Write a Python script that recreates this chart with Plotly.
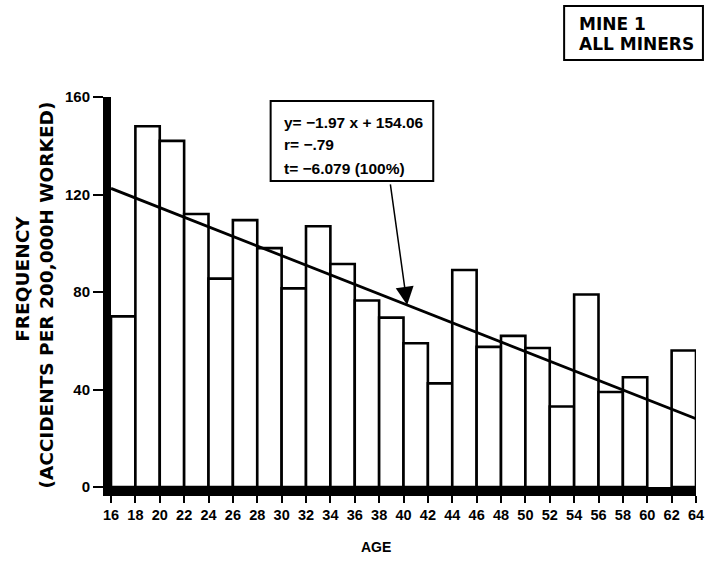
import plotly.graph_objects as go

# ---- data ----
age_bins = [16, 18, 20, 22, 24, 26, 28, 30, 32, 34, 36, 38,
            40, 42, 44, 46, 48, 50, 52, 54, 56, 58, 60, 62]
frequency = [70, 148, 142, 112, 85.5, 109.5, 98, 81.5, 107, 91.5, 76.5, 69.5,
             59, 42.5, 89, 57.5, 62, 57, 33, 79, 39, 45, None, 56]
x_tick_vals = list(range(16, 66, 2))
x_tick_text = [str(v) for v in x_tick_vals]
y_tick_vals = [0, 40, 80, 120, 160]
y_tick_text = ["0", "40", "80", "120", "160"]
fit_x = [16, 64]
fit_y = [122.5, 28.0]
arrow_target = (40.3, 74.7)
stats_lines = ["y= \u22121.97 x + 154.06", "r= \u2212.79", "t= \u22126.079 (100%)"]

# ---- layout geometry (pixels) ----
W, H = 716, 561
L, R, T, B = 111, 15, 97, 74
pw, ph = W - L - R, H - T - B


def px(x):
    return (x - L) / pw


def py(y):
    return (H - B - y) / ph


SANS = "Liberation Sans, Arial, sans-serif"
WIDE = "DejaVu Sans, sans-serif"
BIGFONT = dict(family=WIDE, size=18.5, color="black", weight="bold")

fig = go.Figure()
fig.add_trace(go.Bar(
    x=age_bins, y=frequency, offset=0, width=2,
    marker=dict(color="white", line=dict(color="black", width=2.6)),
    showlegend=False, hoverinfo="skip",
))
fig.add_trace(go.Scatter(
    x=fit_x, y=fit_y, mode="lines",
    line=dict(color="black", width=2.8), showlegend=False, hoverinfo="skip",
))

shapes = [
    dict(type="rect", xref="paper", yref="paper",
         x0=px(272), x1=px(436), y0=py(181), y1=py(101),
         line=dict(color="black", width=2), fillcolor="white", layer="above"),
    dict(type="rect", xref="paper", yref="paper",
         x0=px(568), x1=px(708), y0=py(60), y1=py(6),
         line=dict(color="black", width=2), fillcolor="white"),
]

annotations = []
for txt, yy in zip(stats_lines, [122, 144, 168]):
    annotations.append(dict(
        text=txt, xref="paper", yref="paper", x=px(283), y=py(yy),
        xanchor="left", yanchor="middle", showarrow=False,
        font=dict(family=SANS, size=15.5, color="black", weight="bold"),
    ))
annotations.append(dict(
    x=arrow_target[0], y=arrow_target[1], xref="x", yref="y",
    ax=-17, ay=-122, axref="pixel", ayref="pixel", text="",
    showarrow=True, arrowhead=2, arrowsize=2.4, arrowwidth=1.5, arrowcolor="black",
    standoff=0,
))
for txt, yy in zip(["MINE 1", "ALL MINERS"], [24, 44]):
    annotations.append(dict(
        text=txt, xref="paper", yref="paper", x=px(581), y=py(yy),
        xanchor="left", yanchor="middle", showarrow=False,
        font=dict(family=WIDE, size=17, color="black", weight="bold"),
    ))
annotations.append(dict(
    text="AGE", xref="paper", yref="paper", x=px(378), y=py(547),
    xanchor="center", yanchor="middle", showarrow=False, borderpad=0,
    font=dict(family=SANS, size=14, color="black", weight="bold"),
))
annotations.append(dict(
    text="FREQUENCY", xref="paper", yref="paper", x=px(21), y=py(279),
    xanchor="center", yanchor="middle", showarrow=False, textangle=-90,
    font=BIGFONT,
))
annotations.append(dict(
    text="(ACCIDENTS PER 200,000H WORKED)", xref="paper", yref="paper", x=px(45), y=py(295),
    xanchor="center", yanchor="middle", showarrow=False, textangle=-90,
    font=BIGFONT,
))

fig.update_layout(
    width=W, height=H,
    margin=dict(l=L, r=R, t=T, b=B, pad=0),
    paper_bgcolor="white", plot_bgcolor="white",
    bargap=0,
    shapes=shapes, annotations=annotations,
    xaxis=dict(range=[16, 64], tickmode="array", tickvals=x_tick_vals, ticktext=x_tick_text,
               ticks="outside", ticklen=7, tickwidth=2, tickcolor="black",
               showline=True, linewidth=9, linecolor="black", ticklabeloverflow="allow",
               showgrid=False, zeroline=False,
               tickfont=dict(family=SANS, size=14.5, color="black", weight="bold"),
               fixedrange=True),
    yaxis=dict(range=[0, 160], tickmode="array", tickvals=y_tick_vals, ticktext=y_tick_text,
               ticks="outside", ticklen=10, tickwidth=2, tickcolor="black",
               showline=True, linewidth=8, linecolor="black",
               showgrid=False, zeroline=False,
               tickfont=dict(family=SANS, size=15, color="black", weight="bold"),
               fixedrange=True),
)

# remove the browser's default 8px body margin so the figure sits at the window's corner
fig.write_html(
    "out.html",
    config={"displayModeBar": False, "staticPlot": True},
    post_script="document.body.style.margin='0';document.body.style.overflow='hidden';",
)
